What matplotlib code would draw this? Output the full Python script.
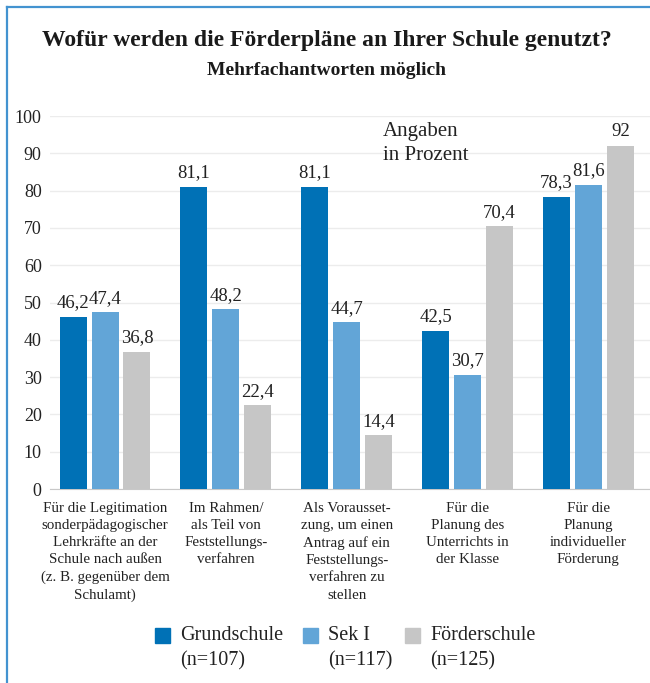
import matplotlib
matplotlib.use("Agg")
import matplotlib.pyplot as plt
from matplotlib.patches import Rectangle
from matplotlib.lines import Line2D
import numpy as np

plt.rcParams['font.family'] = ['Liberation Serif', 'DejaVu Serif']

categories = [
    "Für die Legitimation\nsonderpädagogischer\nLehrkräfte an der\nSchule nach außen\n(z. B. gegenüber dem\nSchulamt)",
    "Im Rahmen/\nals Teil von\nFeststellungs-\nverfahren",
    "Als Vorausset-\nzung, um einen\nAntrag auf ein\nFeststellungs-\nverfahren zu\nstellen",
    "Für die\nPlanung des\nUnterrichts in\nder Klasse",
    "Für die\nPlanung\nindividueller\nFörderung",
]
series_names = ["Grundschule", "Sek I", "Förderschule"]
series_n = ["(n=107)", "(n=117)", "(n=125)"]
grundschule = [46.2, 81.1, 81.1, 42.5, 78.3]
sek1 = [47.4, 48.2, 44.7, 30.7, 81.6]
foerderschule = [36.8, 22.4, 14.4, 70.4, 92]
colors = ["#0071b6", "#62a5d7", "#c6c6c6"]

fig = plt.figure(figsize=(6.5, 6.83), dpi=100)
ax = fig.add_axes([0.077, 0.284, 0.923, 0.546])

x = np.arange(len(categories))
step = 0.264
width = 0.223
for i, (vals, col) in enumerate(zip([grundschule, sek1, foerderschule], colors)):
    bars = ax.bar(x + (i - 1) * step, vals, width, color=col, zorder=3)
    ax.bar_label(bars, labels=[f"{v:g}".replace('.', ',') for v in vals],
                 padding=4, fontsize=13.5, color="#222222")

ax.set_ylim(0, 100)
ax.set_xlim(-0.455, 4.51)
ax.set_yticks(range(0, 101, 10))
ax.tick_params(axis='y', length=0, labelsize=13, pad=6, labelcolor="#222222")
ax.set_xticks(x)
ax.set_xticklabels(categories, fontsize=10.8, linespacing=1.42, color="#222222")
ax.tick_params(axis='x', length=0, pad=9)
for s in ['top', 'right', 'left']:
    ax.spines[s].set_visible(False)
ax.spines['bottom'].set_color("#c8c8c8")
ax.yaxis.grid(True, color="#ececec", linewidth=1)
ax.set_axisbelow(True)

ax.text(2.30, 98.5, "Angaben\nin Prozent", fontsize=15, va='top', ha='left',
        linespacing=1.4, color="#222222")

fig.text(0.503, 0.941, "Wofür werden die Förderpläne an Ihrer Schule genutzt?",
         fontsize=17, fontweight='bold', ha='center', va='center', color="#1a1a1a")
fig.text(0.503, 0.897, "Mehrfachantworten möglich",
         fontsize=14, fontweight='bold', ha='center', va='center', color="#1a1a1a")

# legend, square next to first line
leg_x = [155, 303, 405]
for lx, name, n, col in zip(leg_x, series_names, series_n, colors):
    fig.patches.append(Rectangle((lx / 650, 1 - 643 / 683), 15 / 650, 15 / 683,
                                 transform=fig.transFigure, color=col))
    fig.text((lx + 25) / 650, 1 - 636 / 683, name, fontsize=14.5, va='center',
             ha='left', color="#222222")
    fig.text((lx + 25) / 650, 1 - 661 / 683, n, fontsize=14.5, va='center',
             ha='left', color="#222222")

# frame lines on top and left
border = "#4393d0"
fig.add_artist(Line2D([7 / 650, 7 / 650], [0, 1 - 7 / 683], transform=fig.transFigure,
                      color=border, linewidth=1.6))
fig.add_artist(Line2D([7 / 650, 1], [1 - 7 / 683, 1 - 7 / 683], transform=fig.transFigure,
                      color=border, linewidth=1.6))

fig.savefig("out.png", dpi=100)
